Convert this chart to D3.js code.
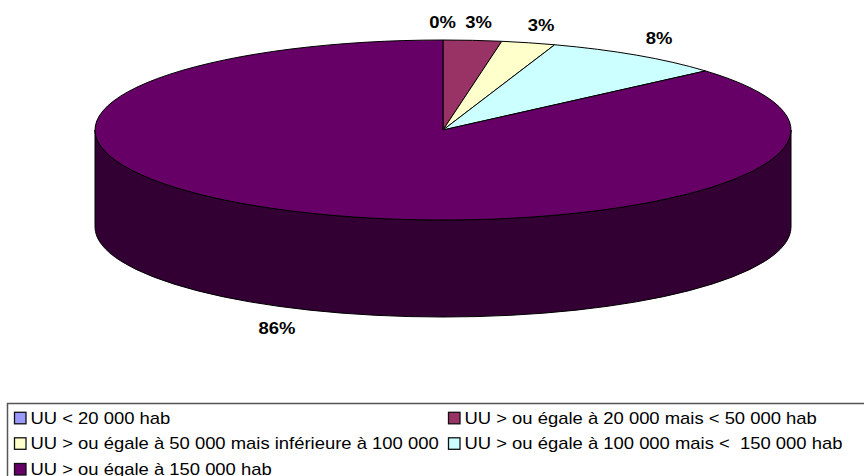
<!DOCTYPE html>
<html>
<head>
<meta charset="utf-8">
<script src="https://cdn.jsdelivr.net/npm/d3@7"></script>
<style>
html, body { margin: 0; padding: 0; background: #fff; }
svg { display: block; }
text { font-family: "Liberation Sans", Arial, sans-serif; }
</style>
</head>
<body>
<script>
var categories = [
	"UU < 20 000 hab",
	"UU > ou égale à 20 000 mais < 50 000 hab",
	"UU > ou égale à 50 000 mais inférieure à 100 000",
	"UU > ou égale à 100 000 mais <  150 000 hab",
	"UU > ou égale à 150 000 hab"
];
var shares = [0, 2.7, 2.5, 8.4, 86.4];
var colors = ["#9999ff", "#993366", "#ffffcc", "#ccffff", "#660066"];

var width = 864,
	height = 476;

// pie geometry: a flat disc seen at an angle
var cx = 443,
	cy = 130,
	rx = 348,
	ry = 90,
	depth = 97;

// all text is set a little wide
var textStretch = 1.152;

var labelPos = [[442.5, 22], [478.5, 22], [541, 25.5], [659, 38], [277, 328]];

var svg = d3.select("body").append("svg")
	.attr("width", width)
	.attr("height", height);

// side wall
svg.append("path")
	.attr("d", "M" + (cx - rx) + "," + cy
		+ "A" + rx + "," + ry + " 0 0 0 " + (cx + rx) + "," + cy
		+ "V" + (cy + depth)
		+ "A" + rx + "," + ry + " 0 0 1 " + (cx - rx) + "," + (cy + depth) + "Z")
	.attr("fill", "#330033")
	.attr("stroke", "#000")
	.attr("stroke-width", 1);

var pie = d3.pie().sort(null);
var arc = d3.arc().innerRadius(0).outerRadius(rx);

// top face, circular arcs squashed into the ellipse
svg.append("g")
	.attr("transform", "translate(" + cx + "," + cy + ") scale(1," + (ry / rx) + ")")
	.selectAll("path")
	.data(pie(shares))
	.enter().append("path")
	.attr("d", arc)
	.attr("fill", function(d, i) { return colors[i]; })
	.attr("stroke", "#000")
	.attr("stroke-width", 1)
	.attr("vector-effect", "non-scaling-stroke");

svg.selectAll("text.pct")
	.data(shares)
	.enter().append("text")
	.attr("class", "pct")
	.attr("transform", function(d, i) {
		return "translate(" + labelPos[i][0] + "," + labelPos[i][1] + ") scale(" + textStretch + ",1)";
	})
	.attr("dy", "0.35em")
	.attr("text-anchor", "middle")
	.attr("font-size", 16)
	.attr("font-weight", "bold")
	.attr("fill", "#000")
	.text(function(d) { return Math.round(d) + "%"; });

// legend box, runs off the right and bottom edges
svg.append("rect")
	.attr("x", 7.5)
	.attr("y", 403.5)
	.attr("width", 870)
	.attr("height", 90)
	.attr("fill", "#fff")
	.attr("stroke", "#555")
	.attr("stroke-width", 1.5);

var legendCols = [14, 448],
	legendRows = [418.3, 443.8, 469.5];

var legend = svg.selectAll("g.key")
	.data(categories)
	.enter().append("g")
	.attr("class", "key")
	.attr("transform", function(d, i) {
		return "translate(" + legendCols[i % 2] + "," + legendRows[Math.floor(i / 2)] + ")";
	});

legend.append("rect")
	.attr("x", 0.5)
	.attr("y", -6)
	.attr("width", 11.5)
	.attr("height", 11.5)
	.attr("fill", function(d, i) { return colors[i]; })
	.attr("stroke", "#111")
	.attr("stroke-width", 1.3);

legend.append("text")
	.attr("transform", "translate(16.5,0) scale(" + textStretch + ",1)")
	.attr("dy", "0.35em")
	.attr("font-size", 16)
	.attr("fill", "#000")
	.style("white-space", "pre")
	.text(function(d) { return d; });
</script>
</body>
</html>
